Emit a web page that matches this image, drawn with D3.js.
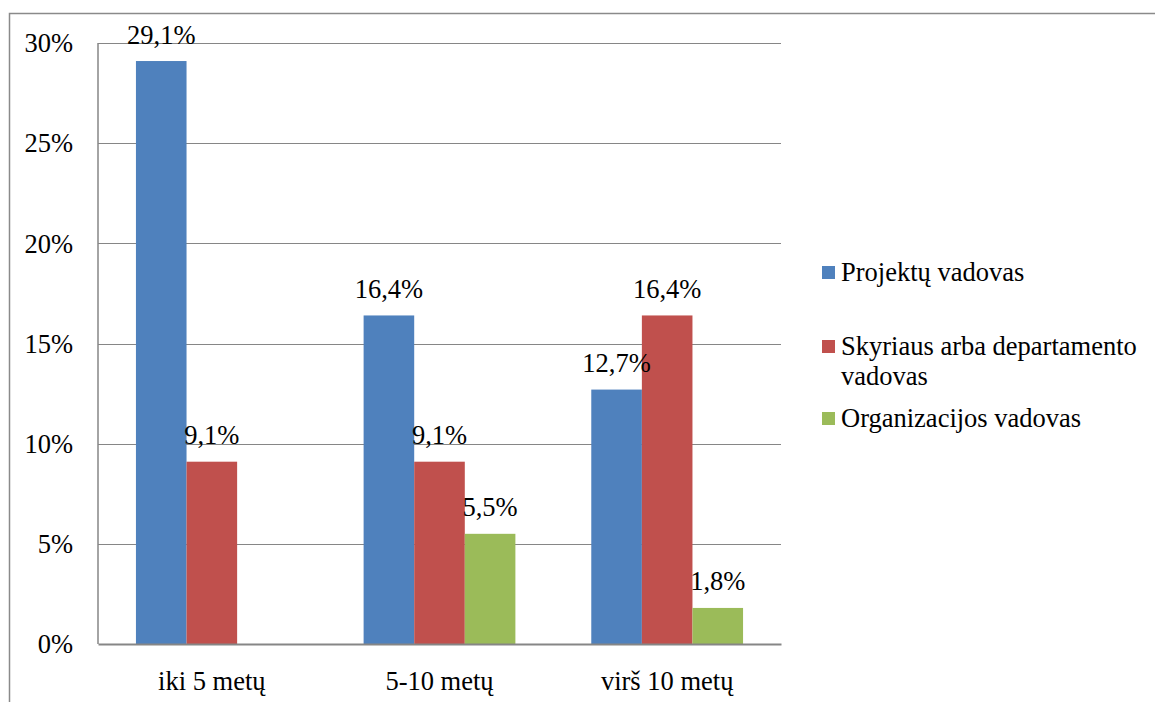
<!DOCTYPE html>
<html>
<head>
<meta charset="utf-8">
<script src="https://cdn.jsdelivr.net/npm/d3@7"></script>
<style>
  html, body { margin: 0; padding: 0; background: #fff; }
  svg { display: block; font-family: "Liberation Serif", serif; }
</style>
</head>
<body>
<svg id="chart" width="1155" height="702"></svg>
<script>
// Experience groups and role series (values in %)
const categories = ["iki 5 metų", "5-10 metų", "virš 10 metų"];
const seriesNames = ["Projektų vadovas", "Skyriaus arba departamento vadovas", "Organizacijos vadovas"];
const projektuVadovas = [29.1, 16.4, 12.7];
const skyriausVadovas = [9.1, 9.1, 16.4];
const organizacijosVadovas = [null, 5.5, 1.8];
const yTicks = [0, 5, 10, 15, 20, 25, 30];
const colors = ["#4F81BD", "#C0504D", "#9BBB59"];

const FONT = "'Liberation Serif', serif";
const fontSize = 26.5;

const seriesValues = [projektuVadovas, skyriausVadovas, organizacijosVadovas];
const rows = categories.map((c, i) => ({
  category: c,
  values: seriesNames.map((s, j) => ({ series: s, j, value: seriesValues[j][i] }))
}));

const svg = d3.select("#chart");
const plot = { left: 98, right: 781, top: 43, bottom: 644 };

// Outer frame (runs off the right and bottom edges)
svg.append("rect")
  .attr("x", 9.5).attr("y", 13.5)
  .attr("width", 1200).attr("height", 760)
  .attr("fill", "none").attr("stroke", "#8a8a8a").attr("stroke-width", 1.5);

const y = d3.scaleLinear().domain([0, 30]).range([plot.bottom, plot.top]);
const x0 = d3.scaleBand().domain(categories).range([plot.left, plot.right]).paddingInner(0).paddingOuter(0);
const x1 = d3.scaleBand().domain(seriesNames).range([0, x0.bandwidth()]).paddingInner(0).paddingOuter(0.75);

// Horizontal gridlines
svg.append("g")
  .selectAll("line")
  .data(yTicks.filter(t => t > 0))
  .join("line")
  .attr("x1", plot.left).attr("x2", plot.right)
  .attr("y1", d => Math.round(y(d)) + 0.5).attr("y2", d => Math.round(y(d)) + 0.5)
  .attr("stroke", "#868686").attr("stroke-width", 1);

// Y axis labels
const yAxis = d3.axisLeft(y).tickValues(yTicks).tickFormat(d => d + "%").tickSize(0).tickPadding(25);
const gy = svg.append("g").attr("transform", `translate(${plot.left},0)`).call(yAxis);
gy.attr("font-family", null).attr("font-size", null);
gy.select(".domain").remove();
gy.selectAll("text")
  .style("font-family", FONT)
  .style("font-size", fontSize + "px")
  .attr("fill", "#000")
  .attr("dy", "0.33em");

// Bars
const groups = svg.append("g").selectAll("g")
  .data(rows)
  .join("g")
  .attr("transform", d => `translate(${x0(d.category)},0)`);

groups.selectAll("rect")
  .data(d => d.values.filter(v => v.value != null))
  .join("rect")
  .attr("x", d => x1(d.series))
  .attr("width", x1.bandwidth())
  .attr("y", d => y(d.value))
  .attr("height", d => y(0) - y(d.value))
  .attr("fill", d => colors[d.j]);

// Value labels
groups.selectAll("text.val")
  .data(d => d.values.filter(v => v.value != null))
  .join("text")
  .attr("class", "val")
  .attr("x", d => x1(d.series) + x1.bandwidth() / 2)
  .attr("y", d => y(d.value) - 17.5)
  .attr("text-anchor", "middle")
  .style("font-family", FONT)
  .style("font-size", fontSize + "px")
  .attr("fill", "#000")
  .text(d => d3.format(".1f")(d.value).replace(".", ",") + "%");

// Left axis line
svg.append("line")
  .attr("x1", plot.left).attr("x2", plot.left)
  .attr("y1", plot.top).attr("y2", plot.bottom)
  .attr("stroke", "#868686").attr("stroke-width", 1.5);

// Category axis
const xAxis = d3.axisBottom(x0).tickSize(0).tickPadding(27);
const gx = svg.append("g").attr("transform", `translate(0,${plot.bottom})`).call(xAxis);
gx.attr("font-family", null).attr("font-size", null);
gx.select(".domain").attr("stroke", "#868686").attr("stroke-width", 2);
gx.selectAll("text")
  .style("font-family", FONT)
  .style("font-size", fontSize + "px")
  .attr("fill", "#000")
  .attr("dy", "0.71em");

// Legend (second entry wraps onto two lines)
const legendRows = [
  { lines: ["Projektų vadovas"], y: 281 },
  { lines: ["Skyriaus arba departamento", "vadovas"], y: 355 },
  { lines: ["Organizacijos vadovas"], y: 427 }
];
const legend = svg.append("g").selectAll("g")
  .data(seriesNames.map((s, i) => ({ name: s, i, ...legendRows[i] })))
  .join("g");

legend.append("rect")
  .attr("x", 822).attr("y", d => d.y - 15)
  .attr("width", 13).attr("height", 13)
  .attr("fill", d => colors[d.i]);

legend.each(function (d) {
  const g = d3.select(this);
  d.lines.forEach((line, k) => {
    g.append("text")
      .attr("x", 841).attr("y", d.y + k * 29.5)
      .style("font-family", FONT)
      .style("font-size", fontSize + "px")
      .attr("fill", "#000")
      .text(line);
  });
});
</script>
</body>
</html>
